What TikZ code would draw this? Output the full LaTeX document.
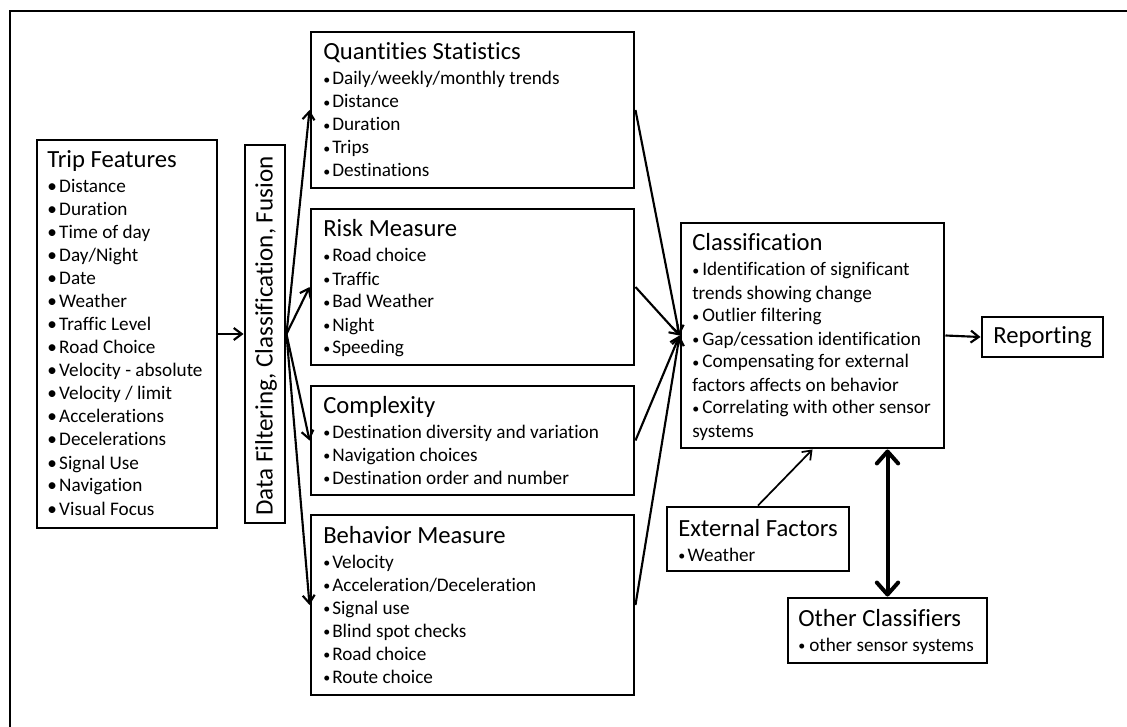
\documentclass[tikz,border=0pt]{standalone}
\usepackage{fontspec}
\setmainfont{Carlito}[Ligatures=NoCommon]
\usetikzlibrary{arrows.meta,fit}

% text sizes: headings and bullet items
\newcommand\headfont{\fontsize{18.5}{21}\selectfont}
\newcommand\itemfont{\fontsize{14.4}{17.25}\selectfont}
\newlength\bulletw
\newcommand\bulletmark{\textbullet}
\newcommand\itm[1]{\par\hangindent=\bulletw\hangafter=1\noindent\makebox[\bulletw][l]{\bulletmark}#1}
% small bullet used in the compact boxes
\newcommand\smallbullet{\raisebox{0.6pt}{\fontsize{10.5}{10.5}\selectfont\textbullet}}
% #1 bullet indent, #2 heading, #3 bullet items
\newcommand\boxtext[3]{\parbox[t]{10cm}{\raggedright\setlength\bulletw{#1}%
  \headfont #2\par\vspace{1.5pt}\itemfont #3\par}}
\newcommand\smallboxtext[3]{\parbox[t]{10cm}{\raggedright\setlength\bulletw{#1}%
  \let\bulletmark\smallbullet
  \headfont #2\par\vspace{1.5pt}\itemfont #3\par}}

\tikzset{
  box/.style={draw, line width=2.2pt, inner sep=0pt},
  boxtxt/.style={anchor=base west, inner sep=0pt},
  conn/.style={line width=1.6pt, -{Straight Barb[length=6pt,width=9pt]}},
  bothway/.style={line width=3pt,
    {Straight Barb[length=9pt,width=16pt,line cap=round,line join=round]}-{Straight Barb[length=9pt,width=16pt,line cap=round,line join=round]}},
  frameline/.style={line width=1.6pt},
}

\begin{document}
\begin{tikzpicture}[x=0.75pt,y=-0.75pt]
\useasboundingbox (0,0) rectangle (1127,727);

% outer frame (only its top and left edges fall inside the page)
\draw[frameline] (10,740) -- (10,11) -- (1140,11);

% boxes
\node[box, fit={(37,140) (217,528)}] (trip) {};
\node[box, fit={(245,145) (285,523)}] (filter) {};
\node[box, fit={(311,32) (634,188)}] (quant) {};
\node[box, fit={(311,209) (634,365)}] (risk) {};
\node[box, fit={(311,386) (634,495)}] (complex) {};
\node[box, fit={(311,515) (634,695)}] (behav) {};
\node[box, fit={(681,223) (944,448)}] (class) {};
\node[box, fit={(667,507) (849,571)}] (ext) {};
\node[box, fit={(788,598) (987,663)}] (other) {};
\node[box, minimum width=90.75pt, minimum height=30pt, inner sep=2pt, font=\headfont] (report) at (1042.5,337) {Reporting};

% box contents
\node[boxtxt] (trip-t) at (47,168) {\boxtext{9pt}{Trip Features}{%
  \itm{Distance}\itm{Duration}\itm{Time of day}\itm{Day/Night}\itm{Date}%
  \itm{Weather}\itm{Traffic Level}\itm{Road Choice}\itm{Velocity - absolute}%
  \itm{Velocity / limit}\itm{Accelerations}\itm{Decelerations}\itm{Signal Use}%
  \itm{Navigation}\itm{Visual Focus}}};

\node[rotate=90, font=\fontsize{18.8}{22}\selectfont, inner sep=0pt] (filter-t) at (266,336) {Data Filtering, Classification, Fusion};

\node[boxtxt] (quant-t) at (323,60) {\smallboxtext{6.75pt}{Quantities Statistics}{%
  \itm{Daily/weekly/monthly trends}\itm{Distance}\itm{Duration}\itm{Trips}\itm{Destinations}}};

\node[boxtxt] (risk-t) at (323,237) {\smallboxtext{6.75pt}{Risk Measure}{%
  \itm{Road choice}\itm{Traffic}\itm{Bad Weather}\itm{Night}\itm{Speeding}}};

\node[boxtxt] (complex-t) at (323,413) {\smallboxtext{6.75pt}{Complexity}{%
  \itm{Destination diversity and variation}\itm{Navigation choices}\itm{Destination order and number}}};

\node[boxtxt] (behav-t) at (323,543) {\smallboxtext{6.75pt}{Behavior Measure}{%
  \itm{Velocity}\itm{Acceleration/Deceleration}\itm{Signal use}\itm{Blind spot checks}%
  \itm{Road choice}\itm{Route choice}}};

\node[boxtxt] (class-t) at (692,251) {\smallboxtext{7.5pt}{Classification}{%
  \itm{Identification of significant\\trends showing change}\itm{Outlier filtering}%
  \itm{Gap/cessation identification}\itm{Compensating for external\\factors affects on behavior}%
  \itm{Correlating with other sensor\\systems}}};

\node[boxtxt] (ext-t) at (678,536) {\smallboxtext{7pt}{External Factors}{\itm{Weather}}};

\node[boxtxt] (other-t) at (798,626) {\smallboxtext{8.25pt}{Other Classifiers}{\itm{other sensor systems}}};

% connectors
\draw[conn] (trip.east) -- (filter.west);
\draw[conn] (filter.east) -- (quant.west);
\draw[conn] (filter.east) -- (risk.west);
\draw[conn] (filter.east) -- (complex.west);
\draw[conn] (filter.east) -- (behav.west);
\draw[conn] (quant.east) -- (class.west);
\draw[conn] (risk.east) -- (class.west);
\draw[conn] (complex.east) -- (class.west);
\draw[conn] (behav.east) -- (class.west);
\draw[conn] (class.east) -- (report.west);
\draw[conn, line width=1.3pt] (ext.north) -- (class.south);
\draw[bothway] (class.south -| other.north) -- (other.north);
\end{tikzpicture}
\end{document}
